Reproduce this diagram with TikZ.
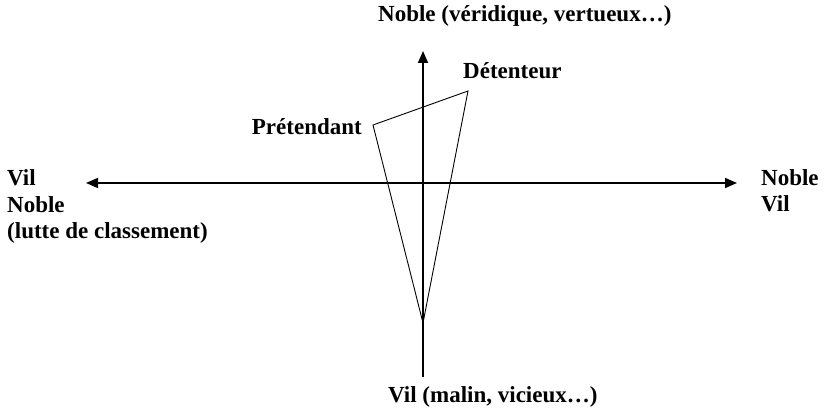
\documentclass[tikz,border=0pt]{standalone}
\usepackage{fontspec}
\setmainfont{Liberation Serif}
\usetikzlibrary{positioning,arrows.meta}

\begin{document}
\begin{tikzpicture}[x=1pt, y=-1pt,
  axis/.style={draw=black, line width=1.7pt},
  tip/.style={-{Triangle[length=12pt,width=10pt]}},
  side/.style={draw=black, line width=0.9pt, line join=miter},
  lbl/.style={font=\bfseries\fontsize{23}{26.5}\selectfont, inner sep=0pt, align=left}
]
\useasboundingbox (0,0) rectangle (825,411);
% axes
\coordinate (west) at (86,183);
\coordinate (east) at (737,183);
\coordinate (top) at (423,51);
\coordinate (foot) at (423,377);
\draw[axis, tip] (foot) -- (top);
\draw[axis, {Triangle[length=12pt,width=10pt]}-{Triangle[length=12pt,width=10pt]}] (west) -- (east);
% triangle
\coordinate (pret) at (373,125);
\coordinate (det) at (468,91);
\coordinate (apex) at (423,323);
\draw[side] (pret) -- (det) -- (apex) -- cycle;
% labels
\node[lbl, anchor=base west] (up) at (378,22) {Noble (véridique, vertueux…)};
\node[lbl, anchor=base west] (down) at (388,403) {Vil (malin, vicieux…)};
\node[lbl, anchor=base west] (detlbl) at (463,79) {Détenteur};
\node[lbl, anchor=base east] (pretlbl) at (362,135) {Prétendant};
\node[lbl, anchor=base west] (left) at (7,239) {Vil\\Noble\\(lutte de classement)};
\node[lbl, anchor=base west] (right) at (761,212) {Noble\\Vil};
\end{tikzpicture}
\end{document}
